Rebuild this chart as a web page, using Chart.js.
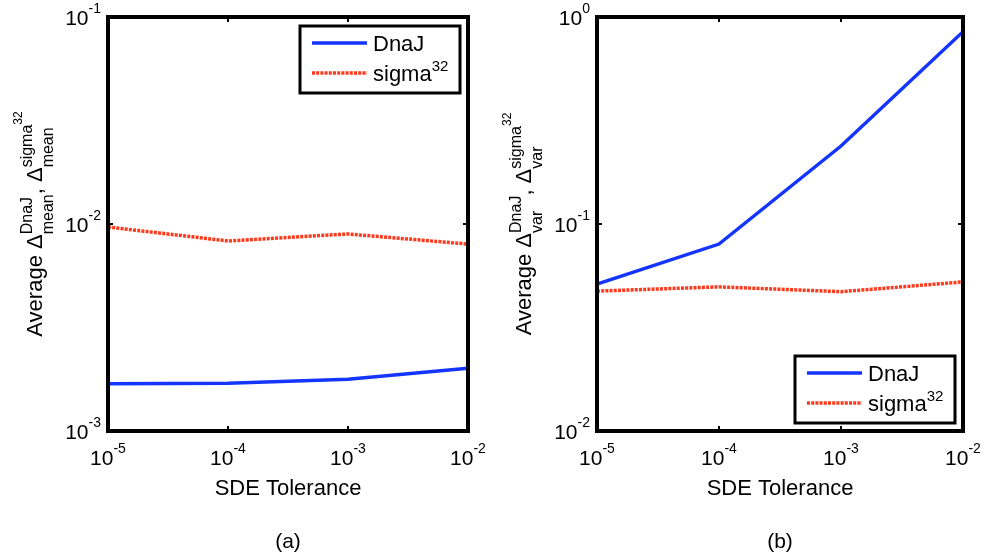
<!DOCTYPE html>
<html>
<head>
<meta charset="utf-8">
<script src="https://cdn.jsdelivr.net/npm/chart.js@4/dist/chart.umd.min.js"></script>
<style>
  body { margin: 0; background: #fff; width: 986px; height: 560px; position: relative; overflow: hidden; }
  canvas { position: absolute; top: 0; }
  #panelA { left: 0; }
  #panelB { left: 490px; }
</style>
</head>
<body>
<canvas id="panelA" width="490" height="560"></canvas>
<canvas id="panelB" width="496" height="560"></canvas>
<script>
// SDE tolerance values on the x axis
var tolerance = [1e-5, 1e-4, 1e-3, 1e-2];
var xTickExp = [-5, -4, -3, -2];

// (a) average error of the mean
var meanDnaJ = [0.00169, 0.00170, 0.00178, 0.00201];
var meanSigma32 = [0.00967, 0.00828, 0.00895, 0.00800];
var meanTickExp = [-3, -2, -1];

// (b) average error of the variance
var varDnaJ = [0.0513, 0.0800, 0.238, 0.849];
var varSigma32 = [0.0474, 0.0497, 0.0471, 0.0525];
var varTickExp = [-2, -1, 0];

var FONT = '"Liberation Sans", Arial, Helvetica, sans-serif';
var BLUE = '#1434ff';
var RED = '#ff3a1c';

function font(px) { return px + 'px ' + FONT; }

// a run list is text pieces side by side; a piece with sup/sub stacks the two
function runWidth(ctx, runs) {
    var w = 0;
    runs.forEach(function(r) {
        if (r.sup || r.sub) {
            w += Math.max(runWidth(ctx, r.sup || []), runWidth(ctx, r.sub || []));
        } else {
            ctx.font = font(r.s);
            w += ctx.measureText(r.t).width;
        }
    });
    return w;
}

function drawRuns(ctx, runs, x, y) {
    runs.forEach(function(r) {
        if (r.sup || r.sub) {
            drawRuns(ctx, r.sup || [], x, y);
            drawRuns(ctx, r.sub || [], x, y);
            x += Math.max(runWidth(ctx, r.sup || []), runWidth(ctx, r.sub || []));
        } else {
            ctx.font = font(r.s);
            ctx.fillText(r.t, x, y + (r.dy || 0));
            x += ctx.measureText(r.t).width;
        }
    });
    return x;
}

function powerLabel(e) {
    return [{t: '10', s: 21}, {t: String(e), s: 14, dy: -12}];
}

function yTitle(sub) {
    return [
        {t: 'Average ', s: 22},
        {t: '\u0394', s: 22},
        {sup: [{t: 'DnaJ', s: 16, dy: -10}], sub: [{t: sub, s: 16, dy: 11}]},
        {t: ', ', s: 22},
        {t: '\u0394', s: 22},
        {sup: [{t: 'sigma', s: 16, dy: -10}, {t: '32', s: 12, dy: -20}], sub: [{t: sub, s: 16, dy: 11}]}
    ];
}

// frame, inward ticks, tick labels, titles and the boxed legend
var matlabAxes = {
    id: 'matlabAxes',
    afterDatasetsDraw: function(chart, args, opts) {
        var ctx = chart.ctx, a = chart.chartArea;
        var xs = chart.scales.x, ys = chart.scales.y;
        ctx.save();
        ctx.fillStyle = '#000';
        ctx.strokeStyle = '#000';
        ctx.textBaseline = 'alphabetic';
        ctx.textAlign = 'left';

        ctx.lineWidth = 2;
        ctx.beginPath();
        opts.xExp.forEach(function(e) {
            var px = xs.getPixelForValue(Math.pow(10, e));
            ctx.moveTo(px, a.bottom); ctx.lineTo(px, a.bottom - 5);
            ctx.moveTo(px, a.top); ctx.lineTo(px, a.top + 5);
        });
        opts.yExp.forEach(function(e) {
            var py = ys.getPixelForValue(Math.pow(10, e));
            ctx.moveTo(a.left, py); ctx.lineTo(a.left + 5, py);
            ctx.moveTo(a.right, py); ctx.lineTo(a.right - 5, py);
        });
        ctx.stroke();

        ctx.lineWidth = 4;
        ctx.strokeRect(a.left, a.top, a.right - a.left, a.bottom - a.top);

        opts.xExp.forEach(function(e) {
            var px = xs.getPixelForValue(Math.pow(10, e));
            var runs = powerLabel(e);
            drawRuns(ctx, runs, px - runWidth(ctx, runs) / 2, a.bottom + 34);
        });
        opts.yExp.forEach(function(e) {
            var py = ys.getPixelForValue(Math.pow(10, e));
            var runs = powerLabel(e);
            drawRuns(ctx, runs, a.left - 7 - runWidth(ctx, runs), py + 8);
        });

        var cx = (a.left + a.right) / 2;
        var xt = [{t: 'SDE Tolerance', s: 22}];
        drawRuns(ctx, xt, cx - runWidth(ctx, xt) / 2, a.bottom + 64);
        var cap = [{t: opts.caption, s: 21}];
        drawRuns(ctx, cap, cx - runWidth(ctx, cap) / 2, a.bottom + 117);

        var yt = yTitle(opts.sub);
        ctx.save();
        ctx.translate(a.left - 66, (a.top + a.bottom) / 2);
        ctx.rotate(-Math.PI / 2);
        drawRuns(ctx, yt, -runWidth(ctx, yt) / 2, 0);
        ctx.restore();

        // legend box
        var lw = 160, lh = 67;
        var lx = a.right - 8 - lw;
        var ly = opts.legendAt === 'top' ? a.top + 9 : a.bottom - 8 - lh;
        ctx.fillStyle = '#fff';
        ctx.fillRect(lx, ly, lw, lh);
        ctx.lineWidth = 3;
        ctx.strokeRect(lx, ly, lw, lh);
        var labels = [
            [{t: 'DnaJ', s: 22}],
            [{t: 'sigma', s: 22}, {t: '32', s: 15, dy: -10}]
        ];
        chart.data.datasets.forEach(function(ds, i) {
            var rowY = ly + 17 + i * 30;
            ctx.save();
            ctx.strokeStyle = ds.borderColor;
            ctx.lineWidth = ds.borderWidth;
            ctx.setLineDash(ds.borderDash || []);
            ctx.beginPath();
            ctx.moveTo(lx + 12, rowY);
            ctx.lineTo(lx + 67, rowY);
            ctx.stroke();
            ctx.restore();
            ctx.fillStyle = '#000';
            drawRuns(ctx, labels[i], lx + 73, rowY + 8);
        });
        ctx.restore();
    }
};

function points(ys) {
    return tolerance.map(function(x, i) { return {x: x, y: ys[i]}; });
}

function makePanel(id, dnaj, sigma, yExp, sub, caption, legendAt, padding) {
    var ctx = document.getElementById(id).getContext('2d');
    return new Chart(ctx, {
        type: 'line',
        data: {
            datasets: [{
                label: 'DnaJ',
                data: points(dnaj),
                borderColor: BLUE,
                borderWidth: 3.5,
                pointRadius: 0,
                tension: 0
            }, {
                label: 'sigma32',
                data: points(sigma),
                borderColor: RED,
                borderWidth: 3.5,
                borderDash: [3, 1.2],
                pointRadius: 0,
                tension: 0
            }]
        },
        options: {
            responsive: false,
            animation: false,
            devicePixelRatio: 1,
            layout: {padding: padding},
            scales: {
                x: {type: 'logarithmic', display: false, min: 1e-5, max: 1e-2},
                y: {type: 'logarithmic', display: false,
                    min: Math.pow(10, yExp[0]), max: Math.pow(10, yExp[yExp.length - 1])}
            },
            plugins: {
                legend: {display: false},
                tooltip: {enabled: false},
                matlabAxes: {xExp: xTickExp, yExp: yExp, sub: sub, caption: caption, legendAt: legendAt}
            }
        },
        plugins: [matlabAxes]
    });
}

makePanel('panelA', meanDnaJ, meanSigma32, meanTickExp, 'mean', '(a)', 'top',
    {left: 108, top: 17, right: 22, bottom: 129});
makePanel('panelB', varDnaJ, varSigma32, varTickExp, 'var', '(b)', 'bottom',
    {left: 107, top: 17, right: 23, bottom: 129});
</script>
</body>
</html>
